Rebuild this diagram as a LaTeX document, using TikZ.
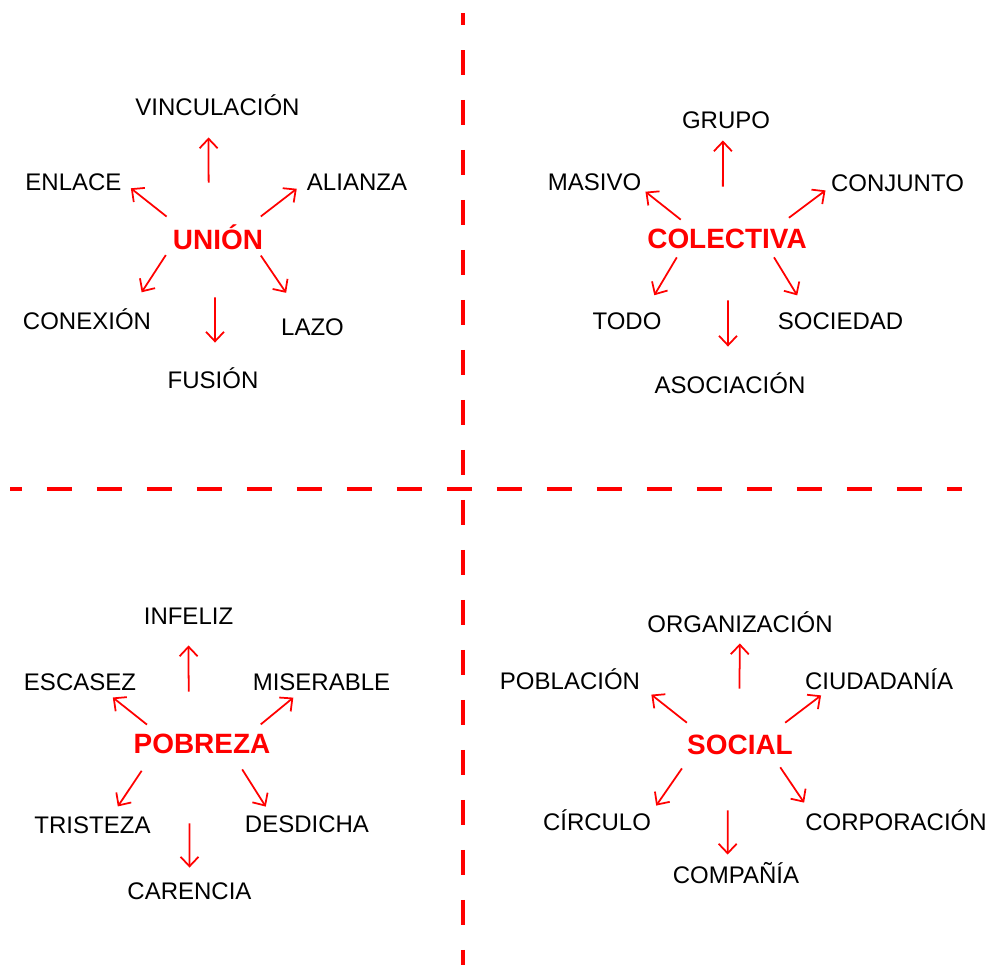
\documentclass[tikz,border=0pt]{standalone}
\usepackage{fontspec}
\setmainfont{Liberation Sans}
\usetikzlibrary{arrows.meta}
\tikzset{
  wordnode/.style={inner sep=0pt,font=\fontsize{13.66pt}{16pt}\selectfont,text height=0.344cm,text depth=0pt},
  hubnode/.style={inner sep=0pt,font=\fontsize{15.9pt}{19pt}\selectfont\bfseries,text=red,text height=0.40cm,text depth=0pt},
  arr/.style={-{Straight Barb[length=1.9mm,width=3.6mm]},line width=1pt,color=red},
  divline/.style={line width=0.08cm,color=red,dash pattern=on 0.5cm off 0.5cm,dash phase=0.26cm}
}

\begin{document}
\begin{tikzpicture}[x=0.02cm,y=-0.02cm]
  \useasboundingbox (0,0) rectangle (993,965);
  \draw[divline] (463,13) -- (463,965);
  \draw[divline] (10,489) -- (962,489);

  \node[hubnode] (union) at (218,239) {UNIÓN};
  \node[wordnode] (vinculacion) at (217.5,106.5) {VINCULACIÓN};
  \node[wordnode] (enlace) at (73.5,182) {ENLACE};
  \node[wordnode] (alianza) at (357,182) {ALIANZA};
  \node[wordnode] (conexion) at (87,320.5) {CONEXIÓN};
  \node[wordnode] (lazo) at (312.5,327) {LAZO};
  \node[wordnode] (fusion) at (213,380) {FUSIÓN};

  \node[hubnode] (colectiva) at (727,238) {COLECTIVA};
  \node[wordnode] (grupo) at (726,119.5) {GRUPO};
  \node[wordnode] (masivo) at (594.5,182) {MASIVO};
  \node[wordnode] (conjunto) at (897.5,183) {CONJUNTO};
  \node[wordnode] (todo) at (627,320.5) {TODO};
  \node[wordnode] (sociedad) at (840.5,320.5) {SOCIEDAD};
  \node[wordnode] (asociacion) at (730,385) {ASOCIACIÓN};

  \node[hubnode] (pobreza) at (202,743) {POBREZA};
  \node[wordnode] (infeliz) at (188.5,616) {INFELIZ};
  \node[wordnode] (escasez) at (80,682) {ESCASEZ};
  \node[wordnode] (miserable) at (321.5,682) {MISERABLE};
  \node[wordnode] (tristeza) at (92.5,824.5) {TRISTEZA};
  \node[wordnode] (desdicha) at (307,824) {DESDICHA};
  \node[wordnode] (carencia) at (189.5,890.5) {CARENCIA};

  \node[hubnode] (social) at (740,744.5) {SOCIAL};
  \node[wordnode] (organizacion) at (740,623.5) {ORGANIZACIÓN};
  \node[wordnode] (poblacion) at (570,681) {POBLACIÓN};
  \node[wordnode] (ciudadania) at (879,681) {CIUDADANÍA};
  \node[wordnode] (circulo) at (597,821.5) {CÍRCULO};
  \node[wordnode] (corporacion) at (896,821.5) {CORPORACIÓN};
  \node[wordnode] (compania) at (736,874.5) {COMPAÑÍA};

  \draw[arr,shorten <=0.92cm,shorten >=0.44cm] (union.132) -- (vinculacion.225);
  \draw[arr,shorten <=0.39cm,shorten >=0.23cm] (union.164) -- (enlace.1);
  \draw[arr,shorten <=0.40cm,shorten >=0.25cm] (union.21) -- (alianza.179);
  \draw[arr,shorten <=0.25cm,shorten >=0.46cm] (union.187) -- (conexion.12);
  \draw[arr,shorten <=0.15cm,shorten >=0.61cm] (union.345) -- (lazo.136);
  \draw[arr,shorten <=0.96cm,shorten >=0.57cm] (union.253) -- (fusion.77);

  \draw[arr,shorten <=0.82cm,shorten >=0.24cm] (colectiva.112) -- (grupo.251);
  \draw[arr,shorten <=0.26cm,shorten >=0.10cm] (colectiva.164) -- (masivo.352);
  \draw[arr,shorten <=0.33cm,shorten >=0.13cm] (colectiva.12) -- (conjunto.183);
  \draw[arr,shorten <=0.21cm,shorten >=0.38cm] (colectiva.193) -- (todo.27);
  \draw[arr,shorten <=0.21cm,shorten >=0.38cm] (colectiva.346) -- (sociedad.165);
  \draw[arr,shorten <=1.04cm,shorten >=0.59cm] (colectiva.276) -- (asociacion.103);

  \draw[arr,shorten <=0.82cm,shorten >=0.41cm] (pobreza.142) -- (infeliz.south);
  \draw[arr,shorten <=0.26cm,shorten >=0.21cm] (pobreza.167) -- (escasez.340);
  \draw[arr,shorten <=0.26cm,shorten >=0.21cm] (pobreza.12) -- (miserable.204);
  \draw[arr,shorten <=0.42cm,shorten >=0.22cm] (pobreza.192) -- (tristeza.25);
  \draw[arr,shorten <=0.38cm,shorten >=0.20cm] (pobreza.341) -- (desdicha.166);
  \draw[arr,shorten <=1.40cm,shorten >=0.28cm] (pobreza.220) -- (carencia.north);

  \draw[arr,shorten <=0.91cm,shorten >=0.22cm] (social.96) -- (organizacion.south);
  \draw[arr,shorten <=0.37cm,shorten >=0.28cm] (social.165) -- (poblacion.356);
  \draw[arr,shorten <=0.38cm,shorten >=0.18cm] (social.19) -- (ciudadania.190);
  \draw[arr,shorten <=0.33cm,shorten >=0.17cm] (social.192) -- (circulo.north east);
  \draw[arr,shorten <=0.30cm,shorten >=0.24cm] (social.342) -- (corporacion.174);
  \draw[arr,shorten <=1.11cm,shorten >=0.22cm] (social.220) -- (compania.133);
\end{tikzpicture}
\end{document}
